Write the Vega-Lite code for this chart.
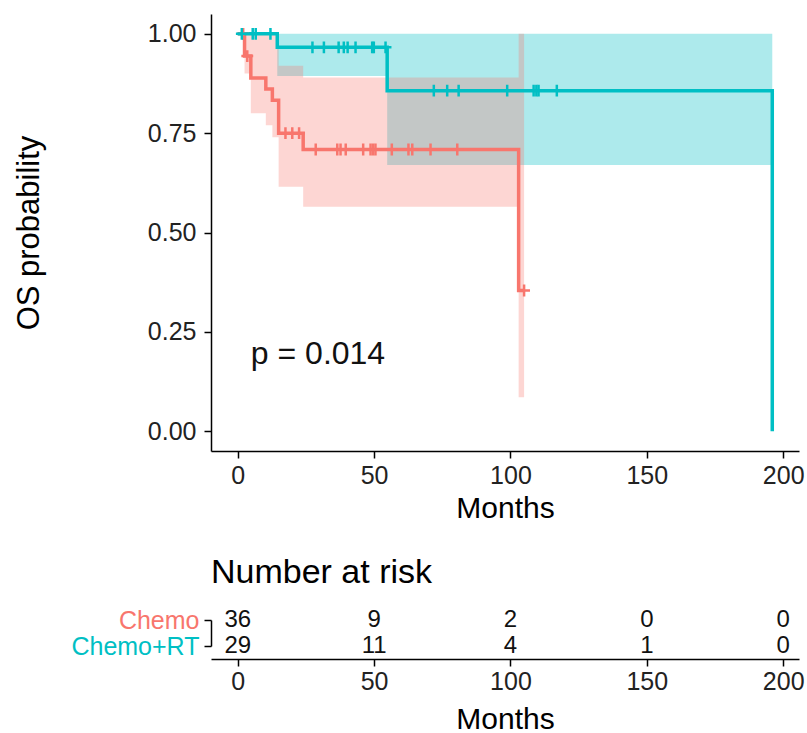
{
  "$schema": "https://vega.github.io/schema/vega-lite/v6.json",
  "background": "white",
  "padding": {"left": 13, "top": 14, "right": 0, "bottom": 0},
  "autosize": {"type": "pad"},
  "spacing": 33,
  "config": {
    "view": {"stroke": null},
    "font": "Liberation Sans",
    "axis": {
      "grid": false,
      "domainColor": "black",
      "domainWidth": 1.5,
      "tickColor": "black",
      "tickWidth": 1.5,
      "labelColor": "#222222",
      "titleColor": "black",
      "titleFontWeight": "normal",
      "labelFont": "Liberation Sans",
      "titleFont": "Liberation Sans"
    }
  },
  "datasets": {
    "curve": [
      {"group": "Chemo", "time": 0, "surv": 1},
      {"group": "Chemo", "time": 2.5, "surv": 0.944},
      {"group": "Chemo", "time": 4.8, "surv": 0.889},
      {"group": "Chemo", "time": 10.3, "surv": 0.861},
      {"group": "Chemo", "time": 12.7, "surv": 0.833},
      {"group": "Chemo", "time": 15, "surv": 0.75},
      {"group": "Chemo", "time": 24, "surv": 0.709},
      {"group": "Chemo", "time": 103, "surv": 0.354},
      {"group": "Chemo", "time": 105, "surv": 0.354},
      {"group": "Chemo+RT", "time": 0, "surv": 1},
      {"group": "Chemo+RT", "time": 14.5, "surv": 0.966},
      {"group": "Chemo+RT", "time": 54.8, "surv": 0.857},
      {"group": "Chemo+RT", "time": 196, "surv": 0}
    ],
    "band": [
      {"group": "Chemo", "time": 0, "lo": 1, "hi": 1},
      {"group": "Chemo", "time": 2.5, "lo": 0.9, "hi": 1},
      {"group": "Chemo", "time": 4.8, "lo": 0.8, "hi": 1},
      {"group": "Chemo", "time": 10.3, "lo": 0.77, "hi": 1},
      {"group": "Chemo", "time": 12.7, "lo": 0.74, "hi": 1},
      {"group": "Chemo", "time": 15, "lo": 0.615, "hi": 0.92},
      {"group": "Chemo", "time": 24, "lo": 0.565, "hi": 0.89},
      {"group": "Chemo", "time": 103, "lo": 0.085, "hi": 1},
      {"group": "Chemo", "time": 105, "lo": 0.085, "hi": 1},
      {"group": "Chemo+RT", "time": 0, "lo": 1, "hi": 1},
      {"group": "Chemo+RT", "time": 14.5, "lo": 0.894, "hi": 1},
      {"group": "Chemo+RT", "time": 54.8, "lo": 0.67, "hi": 1},
      {"group": "Chemo+RT", "time": 196, "lo": 0.67, "hi": 1}
    ],
    "censor": [
      {"group": "Chemo", "time": 2, "surv": 1},
      {"group": "Chemo", "time": 3.5, "surv": 0.944},
      {"group": "Chemo", "time": 17.5, "surv": 0.75},
      {"group": "Chemo", "time": 20, "surv": 0.75},
      {"group": "Chemo", "time": 22.5, "surv": 0.75},
      {"group": "Chemo", "time": 28.6, "surv": 0.709},
      {"group": "Chemo", "time": 36.5, "surv": 0.709},
      {"group": "Chemo", "time": 37.7, "surv": 0.709},
      {"group": "Chemo", "time": 39.6, "surv": 0.709},
      {"group": "Chemo", "time": 46, "surv": 0.709},
      {"group": "Chemo", "time": 48.7, "surv": 0.709},
      {"group": "Chemo", "time": 49.6, "surv": 0.709},
      {"group": "Chemo", "time": 50.5, "surv": 0.709},
      {"group": "Chemo", "time": 56.5, "surv": 0.709},
      {"group": "Chemo", "time": 62.6, "surv": 0.709},
      {"group": "Chemo", "time": 64, "surv": 0.709},
      {"group": "Chemo", "time": 70.7, "surv": 0.709},
      {"group": "Chemo", "time": 80.5, "surv": 0.709},
      {"group": "Chemo", "time": 105, "surv": 0.354},
      {"group": "Chemo+RT", "time": 1.5, "surv": 1},
      {"group": "Chemo+RT", "time": 5.5, "surv": 1},
      {"group": "Chemo+RT", "time": 6.6, "surv": 1},
      {"group": "Chemo+RT", "time": 12, "surv": 1},
      {"group": "Chemo+RT", "time": 27.4, "surv": 0.966},
      {"group": "Chemo+RT", "time": 31.6, "surv": 0.966},
      {"group": "Chemo+RT", "time": 37, "surv": 0.966},
      {"group": "Chemo+RT", "time": 38.9, "surv": 0.966},
      {"group": "Chemo+RT", "time": 40.3, "surv": 0.966},
      {"group": "Chemo+RT", "time": 43.2, "surv": 0.966},
      {"group": "Chemo+RT", "time": 49.3, "surv": 0.966},
      {"group": "Chemo+RT", "time": 49.9, "surv": 0.966},
      {"group": "Chemo+RT", "time": 54.2, "surv": 0.966},
      {"group": "Chemo+RT", "time": 71.9, "surv": 0.857},
      {"group": "Chemo+RT", "time": 76.8, "surv": 0.857},
      {"group": "Chemo+RT", "time": 81, "surv": 0.857},
      {"group": "Chemo+RT", "time": 98.8, "surv": 0.857},
      {"group": "Chemo+RT", "time": 108.5, "surv": 0.857},
      {"group": "Chemo+RT", "time": 109.5, "surv": 0.857},
      {"group": "Chemo+RT", "time": 110.3, "surv": 0.857},
      {"group": "Chemo+RT", "time": 117, "surv": 0.857}
    ],
    "pval": [
      {"time": 4.8, "surv": 0.195, "label": "p = 0.014"}
    ],
    "risk": [
      {"group": "Chemo", "time": 0, "n": 36},
      {"group": "Chemo", "time": 50, "n": 9},
      {"group": "Chemo", "time": 100, "n": 2},
      {"group": "Chemo", "time": 150, "n": 0},
      {"group": "Chemo", "time": 200, "n": 0},
      {"group": "Chemo+RT", "time": 0, "n": 29},
      {"group": "Chemo+RT", "time": 50, "n": 11},
      {"group": "Chemo+RT", "time": 100, "n": 4},
      {"group": "Chemo+RT", "time": 150, "n": 1},
      {"group": "Chemo+RT", "time": 200, "n": 0}
    ]
  },
  "vconcat": [
    {
      "width": 588,
      "height": 437,
      "encoding": {
        "x": {
          "field": "time",
          "type": "quantitative",
          "scale": {"domain": [-9.8, 205.8], "nice": false, "zero": false},
          "axis": {
            "values": [0, 50, 100, 150, 200],
            "title": "Months",
            "titleFontSize": 30,
            "labelFontSize": 25,
            "tickSize": 7,
            "labelPadding": 5,
            "titlePadding": 5,
            "labelFlush": false
          }
        }
      },
      "layer": [
        {
          "data": {"name": "band"},
          "transform": [{"filter": "datum.group === 'Chemo+RT'"}],
          "mark": {"type": "area", "interpolate": "step-after", "color": "#00BFC4", "opacity": 0.32},
          "encoding": {
            "y": {
              "field": "lo",
              "type": "quantitative",
              "scale": {"domain": [-0.05, 1.05], "nice": false, "zero": false},
              "title": "OS probability",
              "axis": {
                "values": [0, 0.25, 0.5, 0.75, 1],
                "format": ".2f",
                "titleFontSize": 31,
                "labelFontSize": 25,
                "tickSize": 7,
                "labelPadding": 8,
                "titlePadding": 102
              }
            },
            "y2": {"field": "hi"}
          }
        },
        {
          "data": {"name": "band"},
          "transform": [{"filter": "datum.group === 'Chemo'"}],
          "mark": {"type": "area", "interpolate": "step-after", "color": "#F8766D", "opacity": 0.3},
          "encoding": {
            "y": {"field": "lo", "type": "quantitative", "title": "OS probability"},
            "y2": {"field": "hi"}
          }
        },
        {
          "data": {"name": "curve"},
          "mark": {"type": "line", "interpolate": "step-after", "strokeWidth": 3.5},
          "encoding": {
            "y": {"field": "surv", "type": "quantitative", "title": "OS probability"},
            "color": {
              "field": "group",
              "type": "nominal",
              "scale": {"domain": ["Chemo", "Chemo+RT"], "range": ["#F8766D", "#00BFC4"]},
              "legend": null
            }
          }
        },
        {
          "data": {"name": "censor"},
          "mark": {"type": "point", "shape": "M-1,0L1,0M0,-1L0,1", "filled": false, "size": 140, "strokeWidth": 2.5, "opacity": 1},
          "encoding": {
            "y": {"field": "surv", "type": "quantitative", "title": "OS probability"},
            "color": {"field": "group", "type": "nominal", "legend": null}
          }
        },
        {
          "data": {"name": "pval"},
          "mark": {"type": "text", "align": "left", "baseline": "middle", "fontSize": 32, "color": "#111111", "font": "Liberation Sans"},
          "encoding": {
            "y": {"field": "surv", "type": "quantitative", "title": "OS probability"},
            "text": {"field": "label", "type": "nominal"}
          }
        }
      ]
    },
    {
      "width": 588,
      "height": 51,
      "title": {"text": "Number at risk", "anchor": "start", "frame": "group", "fontSize": 34, "fontWeight": "normal", "font": "Liberation Sans", "color": "black", "offset": 18},
      "data": {"name": "risk"},
      "mark": {"type": "text", "fontSize": 24, "baseline": "middle", "color": "#111111", "font": "Liberation Sans"},
      "encoding": {
        "x": {
          "field": "time",
          "type": "quantitative",
          "scale": {"domain": [-9.8, 205.8], "nice": false, "zero": false},
          "axis": {
            "values": [0, 50, 100, 150, 200],
            "title": "Months",
            "titleFontSize": 30,
            "labelFontSize": 25,
            "tickSize": 7,
            "labelPadding": 3,
            "titlePadding": 10,
            "labelFlush": false
          }
        },
        "y": {
          "field": "group",
          "type": "nominal",
          "scale": {"type": "point", "domain": ["Chemo", "Chemo+RT"], "range": [12, 38], "padding": 0},
          "axis": {
            "title": null,
            "labelFontSize": 25,
            "tickSize": 7,
            "labelPadding": 5,
            "labelColor": {"condition": {"test": "datum.value === 'Chemo'", "value": "#F8766D"}, "value": "#00BFC4"}
          }
        },
        "text": {"field": "n", "type": "quantitative"}
      }
    }
  ]
}
